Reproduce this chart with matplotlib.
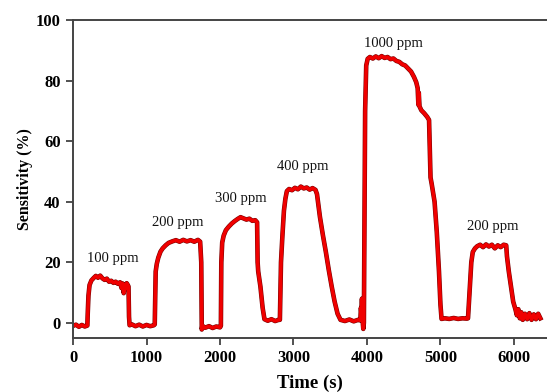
import matplotlib
matplotlib.use("Agg")
import matplotlib.pyplot as plt
import matplotlib.patheffects as pe

# sensor response (time in s, sensitivity in %)
time_s = [0, 40, 80, 120, 160, 195, 200, 210, 225, 250, 280, 310, 340, 370, 400, 430, 460, 490, 520, 550,
          580, 610, 640, 660, 675, 690, 700, 715, 730, 745, 755, 762, 770, 800, 850, 900, 950, 1000, 1050, 1100,
          1112, 1118, 1125, 1140, 1160, 1190, 1220, 1260, 1300, 1350, 1400, 1450, 1500, 1550, 1600, 1650, 1700,
          1730, 1745, 1752, 1760, 1800, 1850, 1900, 1950, 2000,
          2012, 2018, 2030, 2050, 2080, 2120, 2160, 2200, 2240, 2280, 2320, 2360, 2400, 2440, 2480, 2505, 2512,
          2520, 2550, 2580, 2605, 2650, 2700, 2750, 2800,
          2815, 2830, 2850, 2870, 2890, 2910, 2940, 2980, 3020, 3060, 3100, 3140, 3180, 3220, 3260, 3300, 3320,
          3360, 3400, 3440, 3480, 3520, 3560, 3600, 3640, 3700, 3760, 3820, 3880, 3910, 3918, 3925, 3932, 3940,
          3950, 3958,
          3965, 3975, 3990, 4010, 4040, 4080, 4120, 4160, 4200, 4240, 4280, 4320, 4360, 4400, 4440, 4480, 4520,
          4560, 4600, 4640, 4670, 4690, 4700, 4705, 4715, 4740, 4780, 4820, 4845, 4855, 4865, 4880, 4900, 4920,
          4950, 4980, 5000, 5015, 5060, 5120, 5180, 5240, 5300, 5360,
          5375, 5400, 5420, 5440, 5470, 5500, 5540, 5580, 5620, 5660, 5700, 5740, 5780, 5820, 5860, 5895, 5905,
          5930, 5960, 5990, 6020, 6040, 6060, 6080, 6100, 6120, 6150, 6180, 6210, 6240, 6270, 6300, 6330, 6360]
sens = [-1.0, -0.6, -1.3, -0.7, -1.2, -0.9, 3, 9, 12.5, 14, 14.8, 15.5, 14.9, 15.6, 14.7, 14.2, 14.6, 13.6, 13.9, 13.2,
        13.6, 12.9, 13.4, 11.5, 13.0, 9.8, 12.6, 11.2, 13.1, 12.5, 12.0, 2, -0.8, -0.5, -1.1, -0.6, -1.2, -0.7, -1.1, -0.8,
        -0.5, 8, 17, 19.5, 21.5, 23.5, 24.6, 25.6, 26.4, 26.9, 27.3, 26.8, 27.4, 26.9, 27.3, 26.8, 27.4,
        26.8, 20, -2.2, -1.0, -1.6, -1.1, -1.7, -1.2, -1.5,
        -1, 20, 26.5, 28.8, 30.6, 31.8, 32.8, 33.6, 34.3, 34.9, 34.5, 34.1, 34.4, 33.7, 33.9, 33.2, 20,
        17, 12, 5, 1.2, 0.7, 1.2, 0.6, 1.0,
        1, 20, 29, 37, 41, 43.5, 44.2, 43.8, 44.6, 44.1, 45.0, 44.4, 44.7, 44.0, 44.5, 43.9, 42.5,
        35, 29, 23.5, 17.5, 12, 7, 3, 1.0, 0.6, 1.1, 0.5, 1.0, 0.8, 5, 3, 8, 1,
        -2, 0,
        30, 70, 85, 87.2, 87.8, 87.3, 88.0, 87.4, 88.1, 87.5, 87.8, 87.1, 87.3, 86.5, 86.2, 85.4, 85.0,
        84.0, 83.0, 81.2, 79.5, 77.5, 72, 76, 71.5, 70.2, 69.2, 68.0, 67.0, 58, 48, 46, 43, 40,
        30, 17, 6, 1.3, 1.5, 1.3, 1.6, 1.3, 1.5, 1.4,
        1.5, 12, 20, 23.4, 24.6, 25.3, 25.8, 25.0, 25.9, 25.2, 25.8, 24.6, 25.6, 25.0, 25.8, 25.6, 22,
        17, 12, 7, 4.5, 2.5, 4.5, 1.5, 3.5, 1.0, 3.0, 1.2, 3.2, 1.0, 2.8, 1.2, 3.0, 1.5]

# concentration labels and where they sit
labels = ["100 ppm", "200 ppm", "300 ppm", "400 ppm", "1000 ppm", "200 ppm"]
label_t = [540, 1425, 2290, 3130, 4355, 5715]
label_v = [21.4, 33.0, 41.2, 51.6, 92.3, 31.8]

xticks = [0, 1000, 2000, 3000, 4000, 5000, 6000]
yticks = [0, 20, 40, 60, 80, 100]

plt.rcParams['font.family'] = ['Liberation Serif', 'DejaVu Serif']

fig = plt.figure(figsize=(5.47, 3.92), dpi=100)
ax = fig.add_axes([0.1335, 0.1378, 0.8665, 0.811])

ax.plot(time_s, sens, color='#f00000', linewidth=2.5, solid_joinstyle='round',
        path_effects=[pe.Stroke(linewidth=3.3, foreground='#7a0000'), pe.Normal()])

for txt, t, v in zip(labels, label_t, label_v):
    ax.text(t, v, txt, ha='center', va='center', fontsize=10.5, color='#111111')

ax.set_xlim(0, 6450)
ax.set_ylim(-5, 100)
ax.set_xticks(xticks)
ax.set_yticks(yticks)
ax.tick_params(direction='out', length=5, width=1.2, color='#333333', labelsize=12, pad=4)
for lab in ax.get_xticklabels() + ax.get_yticklabels():
    lab.set_fontweight('bold')

ax.spines['right'].set_visible(False)
for s in ['left', 'bottom', 'top']:
    ax.spines[s].set_linewidth(1.4)
    ax.spines[s].set_color('#444444')

ax.set_xlabel('Time (s)', fontsize=13.5, fontweight='bold', labelpad=6)
ax.set_ylabel('Sensitivity (%)', fontsize=11.5, fontweight='bold', labelpad=2)

fig.savefig('out.png', dpi=100)
